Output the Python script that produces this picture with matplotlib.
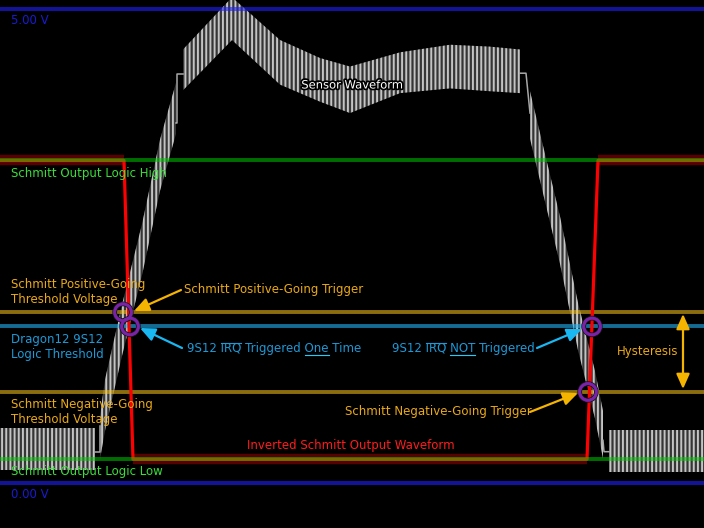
import numpy as np
import matplotlib.pyplot as plt
from matplotlib import patheffects as pe

plt.rcParams['font.family'] = ['DejaVu Sans']
plt.rcParams['hatch.linewidth'] = 1.4
plt.rcParams['hatch.color'] = '#c4c4c4'

# voltage levels (V)
v_rail_hi = 5.0
v_rail_lo = 0.0
v_out_hi = 3.4
v_out_lo = 0.25
v_pos = 1.8
v_irq = 1.65
v_neg = 0.96

# sensor waveform envelope, one block per section (x = sample, top / bottom in V)
noise_l_x = [0, 95]
noise_l_top = [0.58, 0.58]
noise_l_bot = [0.14, 0.14]
rise_x = [100, 105, 122, 142, 160, 176]
rise_top = [0.70, 1.09, 1.88, 2.73, 3.62, 4.22]
rise_bot = [0.25, 0.55, 1.34, 2.19, 3.08, 3.68]
top_x = [183, 232, 280, 320, 350, 400, 450, 490, 520]
top_top = [4.57, 5.12, 4.67, 4.48, 4.39, 4.54, 4.62, 4.60, 4.57]
top_bot = [4.14, 4.67, 4.20, 4.02, 3.90, 4.11, 4.16, 4.13, 4.11]
fall_x = [530, 542, 560, 578, 595, 603]
fall_top = [4.13, 3.60, 2.81, 1.90, 1.18, 0.76]
fall_bot = [3.63, 3.10, 2.31, 1.40, 0.68, 0.26]
noise_r_x = [609, 704]
noise_r_top = [0.56, 0.56]
noise_r_bot = [0.12, 0.12]

# single-line steps between the sections
step_x = [[95, 100, 100], [176, 177, 177, 183], [520, 526, 530], [603, 604, 609]]
step_v = [[0.33, 0.33, 0.60], [3.80, 3.80, 4.31, 4.31], [4.32, 4.32, 3.90], [0.45, 0.33, 0.33]]

# inverted schmitt output
out_x = [0, 124, 133, 587, 598, 704]
out_v = [v_out_hi, v_out_hi, v_out_lo, v_out_lo, v_out_hi, v_out_hi]

# trigger points
mark_x = [123, 130, 592, 588]
mark_v = [v_pos, v_irq, v_irq, v_neg]

GOLD = '#eaaa14'
GOLD_A = '#f5b400'
BLUE_T = '#1c9ad8'
BLUE_A = '#1ab8f2'
GREEN_T = '#3ade3a'
RAIL_T = '#1a1ad2'
FS = 8.5


def py(y):
    # pixel row of the reference -> volts
    return (483 - y) / 94.86


fig = plt.figure(figsize=(7.04, 5.28), dpi=100, facecolor='black')
ax = fig.add_axes([0, 0, 1, 1])
ax.set_facecolor('black')
ax.set_xlim(0, 704)
ax.set_ylim(py(528), py(0))
ax.axis('off')

# sensor waveform
for xs, tp, bt in [(noise_l_x, noise_l_top, noise_l_bot), (rise_x, rise_top, rise_bot),
                   (top_x, top_top, top_bot), (fall_x, fall_top, fall_bot),
                   (noise_r_x, noise_r_top, noise_r_bot)]:
    ax.fill_between(xs, bt, tp, facecolor='#363636', edgecolor='#c4c4c4',
                    hatch='||||', linewidth=0, zorder=1)
for sx, sv in zip(step_x, step_v):
    ax.plot(sx, sv, color='#a8a8a8', lw=1.1, zorder=1)

# rails and thresholds
ax.axhline(v_rail_hi, color='#2020ff', alpha=0.6, lw=2.9, zorder=2)
ax.axhline(v_rail_lo, color='#2020ff', alpha=0.6, lw=2.9, zorder=2)
ax.axhline(v_pos, color='#ffc81a', alpha=0.55, lw=2.8, zorder=2)
ax.axhline(v_neg, color='#ffc81a', alpha=0.55, lw=2.8, zorder=2)
ax.axhline(v_irq, color='#22b4f8', alpha=0.6, lw=2.8, zorder=2)

# schmitt output with glow on the flat parts
for i in range(len(out_x) - 1):
    if out_v[i] == out_v[i + 1]:
        ax.plot(out_x[i:i + 2], out_v[i:i + 2], color='red', alpha=0.35, lw=7.5,
                solid_capstyle='butt', zorder=3)
ax.plot(out_x, out_v, color='#ff0000', lw=2.3, zorder=3)

ax.axhline(v_out_hi, color='#00c800', alpha=0.55, lw=2.8, zorder=4)
ax.axhline(v_out_lo, color='#00c800', alpha=0.55, lw=2.8, zorder=4)

# trigger circles
ax.plot(mark_x, mark_v, 'o', ms=12, mfc='none', mec='#7a22aa', mew=2.0, zorder=5,
        path_effects=[pe.withStroke(linewidth=3.4, foreground='#181818'), pe.Normal()])

# labels
ax.text(11, py(20), '5.00 V', color=RAIL_T, fontsize=FS, va='center')
ax.text(11, py(495), '0.00 V', color=RAIL_T, fontsize=FS, va='center')
ax.text(352, py(85), 'Sensor Waveform', color='white', fontsize=8.3, ha='center',
        va='center', zorder=6, path_effects=[pe.withStroke(linewidth=2.5, foreground='black')])
ax.text(11, py(173), 'Schmitt Output Logic High', color=GREEN_T, fontsize=FS, va='center', zorder=6)
ax.text(11, py(471), 'Schmitt Output Logic Low', color=GREEN_T, fontsize=FS, va='center', zorder=6)
ax.text(11, py(292), 'Schmitt Positive-Going\nThreshold Voltage', color=GOLD, fontsize=FS,
        va='center', linespacing=1.2, zorder=6)
ax.text(11, py(347), 'Dragon12 9S12\nLogic Threshold', color=BLUE_T, fontsize=FS,
        va='center', linespacing=1.2, zorder=6)
ax.text(11, py(412), 'Schmitt Negative-Going\nThreshold Voltage', color=GOLD, fontsize=FS,
        va='center', linespacing=1.2, zorder=6)
ax.text(351, py(446), 'Inverted Schmitt Output Waveform', color='#ff1c1c', fontsize=FS,
        ha='center', va='center', zorder=6)
ax.text(617, py(351), 'Hysteresis', color=GOLD, fontsize=FS, va='center', zorder=6)
ax.text(184, py(290), 'Schmitt Positive-Going Trigger', color=GOLD, fontsize=FS, va='center', zorder=6)
ax.text(345, py(411), 'Schmitt Negative-Going Trigger', color=GOLD, fontsize=FS, va='center', zorder=6)
t_one = ax.text(187, py(352), '9S12 IRQ Triggered One Time', color=BLUE_T, fontsize=FS,
                va='baseline', zorder=6)
t_not = ax.text(392, py(352), '9S12 IRQ NOT Triggered', color=BLUE_T, fontsize=FS,
                va='baseline', zorder=6)

renderer = fig.canvas.get_renderer()


def text_width(s):
    tmp = ax.text(0, 0, s, fontsize=FS)
    w = tmp.get_window_extent(renderer).width
    tmp.remove()
    return w


def deco(t, prefix, word, y_px, color):
    x0 = t.get_position()[0]
    x1 = x0 + text_width(prefix + word)
    ax.plot([x1 - text_width(word), x1], [py(y_px)] * 2, color=color, lw=0.8, zorder=6)


deco(t_one, '9S12 ', 'IRQ', 342.5, BLUE_T)
deco(t_one, '9S12 IRQ Triggered ', 'One', 355, '#1ad0ff')
deco(t_not, '9S12 ', 'IRQ', 342.5, BLUE_T)
deco(t_not, '9S12 IRQ ', 'NOT', 355, '#1ad0ff')

# arrows
def arrow(tail, tip, color, style='-|>'):
    ax.annotate('', xy=(tip[0], py(tip[1])), xytext=(tail[0], py(tail[1])),
                arrowprops=dict(arrowstyle=style + ',head_length=0.9,head_width=0.4',
                                color=color, lw=1.6, shrinkA=0, shrinkB=0),
                zorder=7)


arrow((181, 290), (134, 311), GOLD_A)
arrow((182, 348), (140, 328), BLUE_A)
arrow((537, 348), (582, 329), BLUE_A)
arrow((530, 412), (578, 393), GOLD_A)
arrow((683, 314), (683, 389), GOLD_A, style='<|-|>')

plt.savefig('out.png', dpi=100, facecolor='black')
